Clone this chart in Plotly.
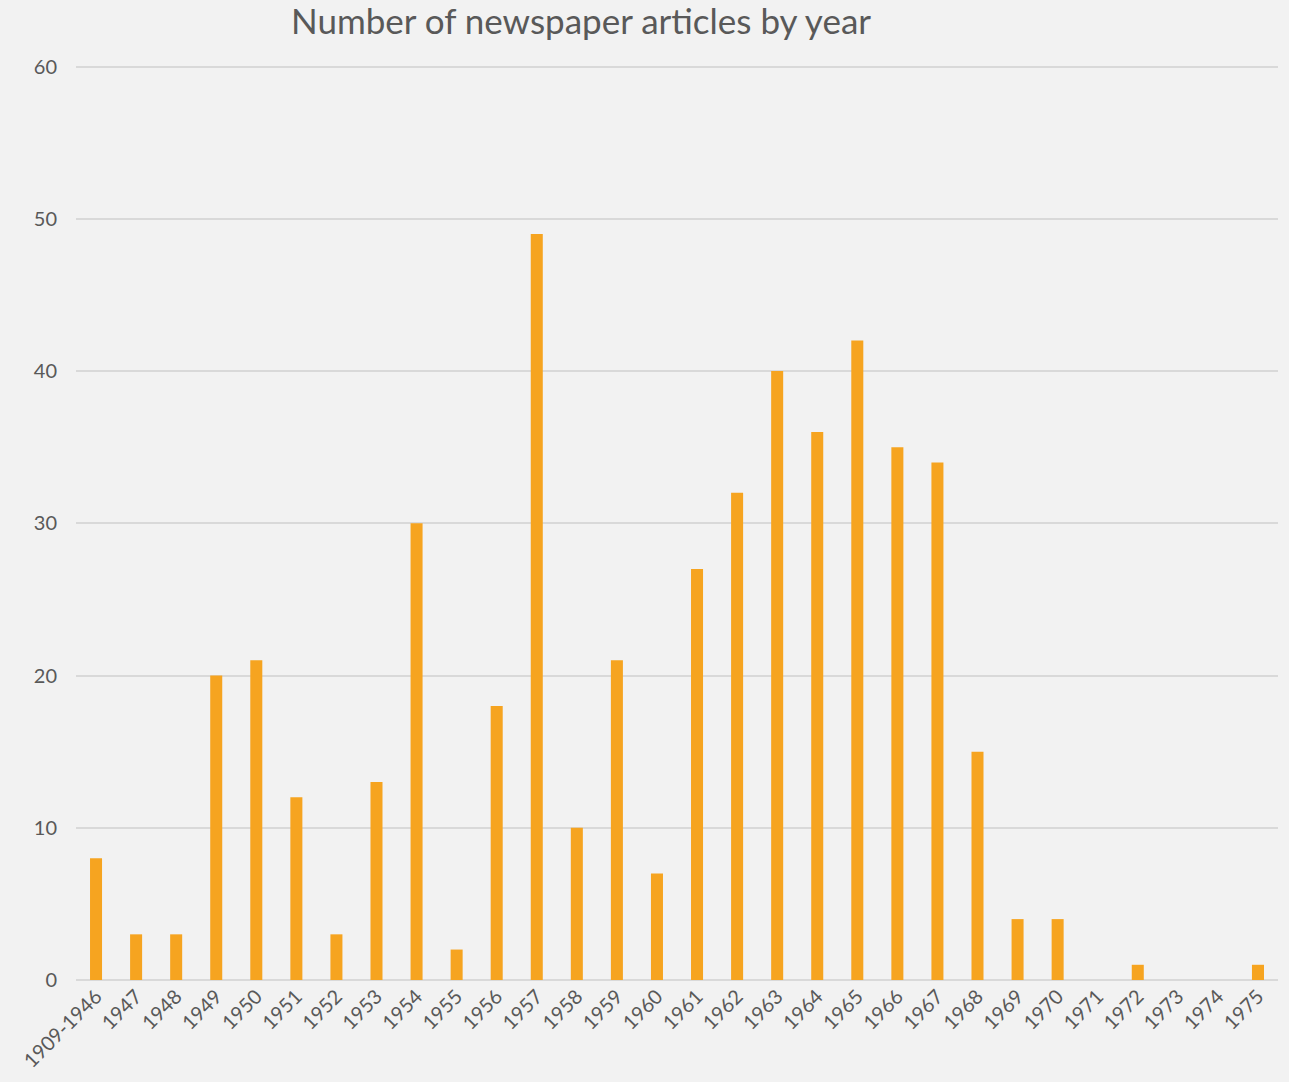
import plotly.graph_objects as go

categories = ["1909-1946", "1947", "1948", "1949", "1950", "1951", "1952", "1953", "1954", "1955",
              "1956", "1957", "1958", "1959", "1960", "1961", "1962", "1963", "1964", "1965",
              "1966", "1967", "1968", "1969", "1970", "1971", "1972", "1973", "1974", "1975"]
articles = [8, 3, 3, 20, 21, 12, 3, 13, 30, 2,
            18, 49, 10, 21, 7, 27, 32, 40, 36, 42,
            35, 34, 15, 4, 4, 0, 1, 0, 0, 1]
y_ticks = [0, 10, 20, 30, 40, 50, 60]

BG = "#f2f2f2"
TXT = "#595959"
GRID = "#d9d9d9"
FONT = "Lato, 'Open Sans', sans-serif"

fig = go.Figure(go.Bar(x=categories, y=articles, marker=dict(color="#f6a420", line=dict(width=0)),
                       hoverinfo="x+y"))

fig.update_layout(
    width=1289, height=1082,
    paper_bgcolor=BG, plot_bgcolor=BG,
    margin=dict(l=76, r=11, t=62, b=102),
    bargap=0.7,
    showlegend=False,
    font=dict(family=FONT, color=TXT, size=20),
    title=dict(text="Number of newspaper articles by year", x=581/1289, xanchor="center",
               y=1 - 22/1082, yanchor="middle", xref="container", yref="container",
               font=dict(family=FONT, size=35, color=TXT)),
)
fig.update_xaxes(type="category", tickangle=-45, showgrid=False, showline=False, zeroline=False,
                 ticks="", tickfont=dict(size=20, color=TXT))
fig.update_yaxes(range=[0, 60.3], tickvals=y_ticks, showgrid=True, gridcolor=GRID, gridwidth=1.5,
                 zeroline=True, zerolinecolor=GRID, zerolinewidth=2, showline=False, ticks="",
                 ticklabelstandoff=18, tickfont=dict(size=20, color=TXT))

post = ("document.body.style.margin='0';document.body.style.padding='0';"
        "document.body.style.background='%s';document.documentElement.style.background='%s';"
        "document.body.style.overflow='hidden';") % (BG, BG)
fig.write_html("out.html", post_script=post, config={"displayModeBar": False})
